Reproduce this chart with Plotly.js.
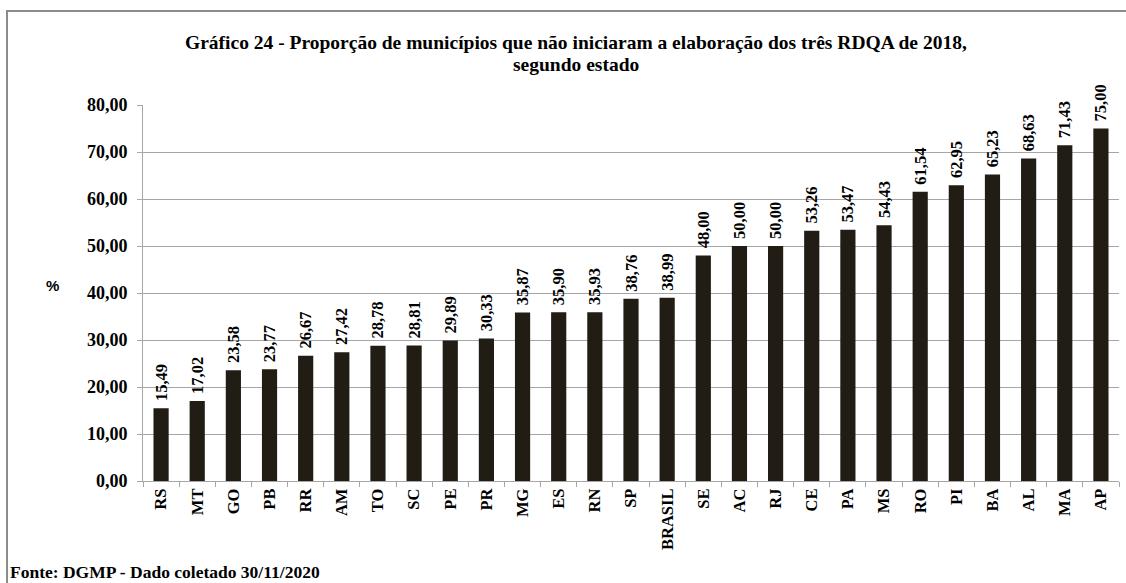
<!DOCTYPE html>
<html>
<head>
<meta charset="utf-8">
<script src="https://cdn.plot.ly/plotly-3.0.1.min.js"></script>
<style>
html,body{margin:0;padding:0;background:#fff;}
#wrap{position:relative;width:1126px;height:583px;}
#chart{width:1126px;height:583px;}
#frame{position:absolute;left:6px;top:10px;width:1200px;height:700px;border-left:2px solid #8c8c8c;border-top:2px solid #8c8c8c;pointer-events:none;}
</style>
</head>
<body>
<div id="wrap"><div id="chart"></div><div id="frame"></div></div>
<script>
const estados = ["RS","MT","GO","PB","RR","AM","TO","SC","PE","PR","MG","ES","RN","SP","BRASIL","SE","AC","RJ","CE","PA","MS","RO","PI","BA","AL","MA","AP"];
const proporcao = [15.49,17.02,23.58,23.77,26.67,27.42,28.78,28.81,29.89,30.33,35.87,35.90,35.93,38.76,38.99,48.00,50.00,50.00,53.26,53.47,54.43,61.54,62.95,65.23,68.63,71.43,75.00];
const yTicks = [0,10,20,30,40,50,60,70,80];
const tituloLinha1 = "Gráfico 24 - Proporção de municípios que não iniciaram a elaboração dos três RDQA de 2018,";
const tituloLinha2 = "segundo estado";
const fonte = "Fonte: DGMP - Dado coletado 30/11/2020";

const serif = "Liberation Serif, Times New Roman, serif";

const trace = {
  type: "bar",
  x: estados,
  y: proporcao,
  marker: {color: "#211d14"},
  text: proporcao.map(v => "\u00a0" + v.toFixed(2).replace(".", ",")),
  textposition: "outside",
  textangle: -90,
  constraintext: "none",
  cliponaxis: false,
  textfont: {family: serif, size: 16.5, color: "#000", weight: "bold"},
  hoverinfo: "x+y"
};

const px2x = p => (p - 143) / 976;
const px2y = p => (481 - p) / 376;

const layout = {
  width: 1126, height: 583,
  margin: {l: 143, r: 7, t: 105, b: 102},
  paper_bgcolor: "#fff", plot_bgcolor: "#fff",
  separators: ",.",
  bargap: 0.58,
  showlegend: false,
  xaxis: {
    type: "category",
    tickangle: -90,
    tickfont: {family: serif, size: 16.5, color: "#000", weight: "bold"},
    ticks: "outside", tickson: "boundaries", ticklen: 5, tickcolor: "#a6a6a6",
    showline: true, linecolor: "#a6a6a6", linewidth: 1,
    showgrid: false, zeroline: false,
    automargin: false
  },
  yaxis: {
    range: [0, 80],
    tickvals: yTicks,
    tickformat: ".2f",
    tickfont: {family: serif, size: 18, color: "#000", weight: "bold"},
    ticks: "outside", ticklen: 5, tickcolor: "#a6a6a6",
    ticklabelstandoff: 6,
    showline: true, linecolor: "#a6a6a6", linewidth: 1,
    showgrid: true, gridcolor: "#a6a6a6", gridwidth: 1,
    zeroline: false,
    automargin: false
  },
  annotations: [
    {text: tituloLinha1, xref: "paper", yref: "paper", x: px2x(576), y: px2y(43),
     showarrow: false, xanchor: "center", yanchor: "middle",
     font: {family: serif, size: 19.5, color: "#000", weight: "bold"}},
    {text: tituloLinha2, xref: "paper", yref: "paper", x: px2x(576), y: px2y(64),
     showarrow: false, xanchor: "center", yanchor: "middle",
     font: {family: serif, size: 19.5, color: "#000", weight: "bold"}},
    {text: "%", xref: "paper", yref: "paper", x: px2x(52), y: px2y(285),
     showarrow: false, xanchor: "center", yanchor: "middle",
     font: {family: "Liberation Sans, Arial, sans-serif", size: 15, color: "#000", weight: "bold"}},
    {text: fonte, xref: "paper", yref: "paper", x: px2x(8), y: px2y(572),
     showarrow: false, xanchor: "left", yanchor: "middle",
     font: {family: serif, size: 17.5, color: "#000", weight: "bold"}}
  ]
};

Plotly.newPlot("chart", [trace], layout, {displayModeBar: false, staticPlot: true});
</script>
</body>
</html>
